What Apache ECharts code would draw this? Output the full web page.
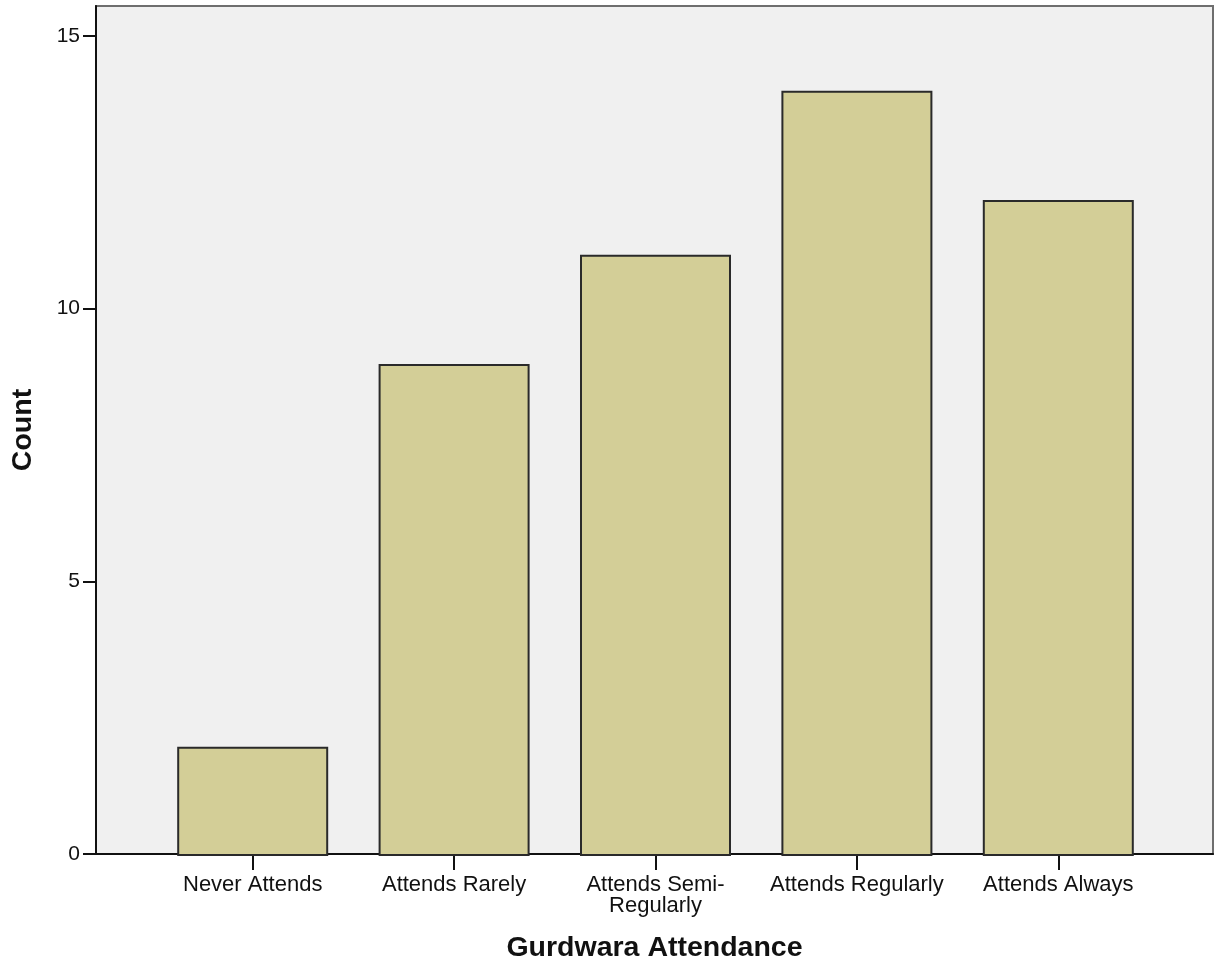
<!DOCTYPE html>
<html>
<head>
<meta charset="utf-8">
<script src="https://cdn.jsdelivr.net/npm/echarts@6/dist/echarts.min.js"></script>
<style>
html,body{margin:0;padding:0;background:#fff;}
#chart{width:1216px;height:968px;}
</style>
</head>
<body>
<div id="chart"></div>
<script>
const categories = ["Never Attends", "Attends Rarely", "Attends Semi-Regularly", "Attends Regularly", "Attends Always"];
const counts = [2, 9, 11, 14, 12];
const yTicks = [0, 5, 10, 15];
const xTitle = "Gurdwara Attendance";
const yTitle = "Count";

const FONT = "'Liberation Sans', Arial, sans-serif";
const Y_MAX = 15.55;

const chart = echarts.init(document.getElementById('chart'), null, {renderer: 'canvas'});
chart.setOption({
  animation: false,
  backgroundColor: '#ffffff',
  grid: [
    {left: 96, right: 3, top: 6, bottom: 112, show: true, backgroundColor: '#f0f0f0', borderColor: '#6e6e6e', borderWidth: 2},
    {left: 152, right: 57, top: 6, bottom: 112}
  ],
  xAxis: [
    {
      gridIndex: 0, type: 'value', min: 0, max: 1,
      axisLine: {show: true, onZero: false, lineStyle: {color: '#111', width: 2}},
      axisTick: {show: false}, axisLabel: {show: false}, splitLine: {show: false},
      name: xTitle, nameLocation: 'middle', nameGap: 80,
      nameTextStyle: {fontFamily: FONT, fontSize: 28.5, fontWeight: 'bold', color: '#111'}
    },
    {
      gridIndex: 1, type: 'category', data: categories,
      axisLine: {show: false},
      axisTick: {show: true, alignWithLabel: true, length: 14, lineStyle: {color: '#111', width: 2}},
      axisLabel: {
        fontFamily: FONT, fontSize: 22, color: '#111', margin: 18, lineHeight: 21, interval: 0,
        formatter: v => v.replace('Semi-', 'Semi-\n')
      }
    }
  ],
  yAxis: [
    {
      gridIndex: 0, type: 'value', min: 0, max: Y_MAX, interval: 5,
      axisLine: {show: true, onZero: false, lineStyle: {color: '#111', width: 2}},
      axisTick: {show: true, length: 13, customValues: yTicks, lineStyle: {color: '#111', width: 2}},
      axisLabel: {fontFamily: FONT, fontSize: 21, color: '#111', margin: 16, customValues: yTicks},
      splitLine: {show: false},
      name: yTitle, nameLocation: 'middle', nameGap: 58, nameRotate: 90,
      nameTextStyle: {fontFamily: FONT, fontSize: 28.5, fontWeight: 'bold', color: '#111'}
    },
    {
      gridIndex: 1, type: 'value', min: 0, max: Y_MAX, show: false
    }
  ],
  series: [{
    type: 'bar', xAxisIndex: 1, yAxisIndex: 1,
    data: counts, barWidth: 151,
    itemStyle: {color: '#d3ce97', borderColor: '#2a2a2a', borderWidth: 2}
  }]
});
</script>
</body>
</html>
